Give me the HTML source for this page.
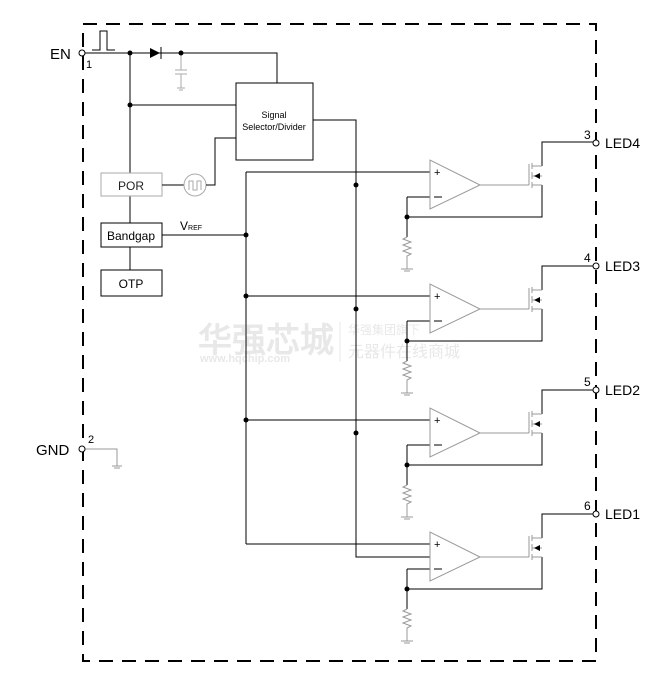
<!DOCTYPE html>
<html><head><style>body{margin:0;background:#fff}svg{display:block}text{font-family:"Liberation Sans",Arial,sans-serif}</style></head><body>
<svg width="665" height="687" viewBox="0 0 665 687" xmlns="http://www.w3.org/2000/svg">
<g fill="none" stroke="#000" stroke-width="1">
<rect x="83" y="24" width="513" height="637" stroke-width="2" stroke-dasharray="14,9"/>
</g>
<text x="198" y="352" font-size="34" font-weight="bold" fill="#e8e8e8" font-family="'Noto Sans CJK SC',sans-serif">华强芯城</text>
<text x="200" y="362" font-size="11" font-weight="bold" fill="#e8e8e8">www.hqchip.com</text>
<line x1="340" y1="322" x2="340" y2="362" stroke="#e8e8e8"/>
<text x="348" y="334" font-size="12" fill="#e8e8e8" font-family="'Noto Sans CJK SC',sans-serif">华强集团旗下</text>
<text x="348" y="357" font-size="16" fill="#e8e8e8" font-family="'Noto Sans CJK SC',sans-serif">元器件在线商城</text>

<g fill="none" stroke="#000" stroke-width="1">
<path d="M85 53H277V83"/>
<path d="M92 50h8v-19h7v19h8"/>
<path d="M130 53V173M130 105H236M130 196V223M130 247V270"/>
<rect x="236" y="83" width="77" height="77"/>
<rect x="101" y="223" width="61" height="24"/>
<rect x="101" y="270" width="61" height="26"/>
<rect x="101" y="173" width="61" height="23" stroke="#aaa"/>
<path d="M162 185H184"/>
<circle cx="195" cy="185" r="11" stroke="#aaa"/>
<path d="M189 190v-9h4v9h4v-9h4v9" stroke="#aaa"/>
<path d="M206 185H215V138H236"/>
<path d="M162 235H246M313 120H356V557H430M246 172V544"/>
<path d="M181 53V70M175 70h12M175 74h12M181 74V88M177 88h8M179 90h4" stroke="#aaa"/>
<path d="M85 449H117V466M112 466h10M114 468h6" stroke="#999"/>
</g>
<polygon points="150,48 150,58 160,53" fill="#000"/>
<line x1="161" y1="47" x2="161" y2="59" stroke="#000"/>
<g fill="#000">
<circle cx="130" cy="53" r="2.5"/><circle cx="181" cy="53" r="2.5"/><circle cx="130" cy="105" r="2.5"/>
<circle cx="246" cy="235" r="2.5"/><circle cx="246" cy="296" r="2.5"/><circle cx="246" cy="420" r="2.5"/>
<circle cx="356" cy="185" r="2.5"/><circle cx="356" cy="309" r="2.5"/><circle cx="356" cy="433" r="2.5"/>
</g>
<circle cx="82" cy="53" r="3" fill="#fff" stroke="#000"/>
<circle cx="82" cy="449" r="3" fill="#fff" stroke="#000"/>
<text x="50" y="59" font-size="15">EN</text>
<text x="86" y="68" font-size="11">1</text>
<text x="36" y="455" font-size="15">GND</text>
<text x="88" y="443" font-size="11">2</text>
<text x="274" y="118" font-size="9" text-anchor="middle">Signal</text>
<text x="274" y="130" font-size="9" text-anchor="middle">Selector/Divider</text>
<text x="131" y="190" font-size="12" text-anchor="middle" fill="#222">POR</text>
<text x="131" y="240" font-size="12" text-anchor="middle">Bandgap</text>
<text x="131" y="288" font-size="12" text-anchor="middle">OTP</text>
<text x="180" y="230" font-size="12">V<tspan font-size="7">REF</tspan></text>

<defs>
<g id="ch">
<path d="M246 12H430M407 37H430M407 37V77M407 57H542V25M542 6V-18H594" fill="none" stroke="#000"/>
<polygon points="430,0 430,49 480,25" fill="none" stroke="#999"/>
<path d="M480 25H529M529 4V25M532 3V9M532 12V19M532 22V28M532 6H542M532 25H542M532 16H542" fill="none" stroke="#999"/>
<polygon points="534,16 540,13 540,19" fill="#000"/>
<path d="M407 77l-4 2 8 3-8 3 8 3-8 3 8 3-4 2V109M401 109h12M404 111h6" fill="none" stroke="#999"/>
<circle cx="407" cy="57" r="2.5" fill="#000"/>
<text x="434" y="16" font-size="11">+</text>
<line x1="434" y1="37" x2="442" y2="37" stroke="#000"/>
</g>
</defs>
<use href="#ch" transform="translate(0,160)"/>
<use href="#ch" transform="translate(0,284)"/>
<use href="#ch" transform="translate(0,408)"/>
<use href="#ch" transform="translate(0,532)"/>
<g fill="#fff" stroke="#000">
<circle cx="596" cy="143" r="3"/><circle cx="596" cy="266" r="3"/><circle cx="596" cy="390" r="3"/><circle cx="596" cy="514" r="3"/>
</g>
<g font-size="14">
<text x="605" y="148">LED4</text><text x="605" y="271">LED3</text><text x="605" y="395">LED2</text><text x="605" y="519">LED1</text>
</g>
<g font-size="12">
<text x="584" y="139">3</text><text x="584" y="262">4</text><text x="584" y="386">5</text><text x="584" y="510">6</text>
</g>
</svg>
</body></html>
